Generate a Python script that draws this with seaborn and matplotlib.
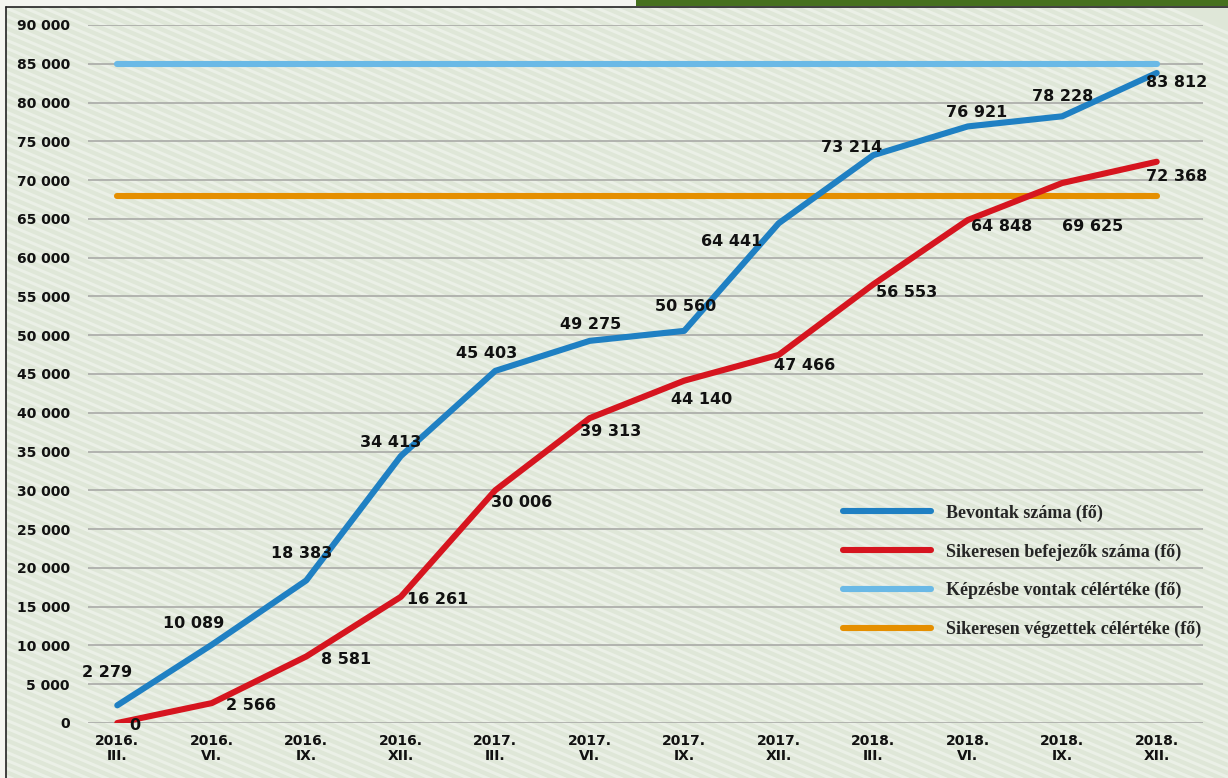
import numpy as np
import pandas as pd
import matplotlib
matplotlib.use("Agg")
import matplotlib.pyplot as plt
from matplotlib.lines import Line2D
from matplotlib.patches import Rectangle
import seaborn as sns

# --- data ---
periods = ["2016.\nIII.", "2016.\nVI.", "2016.\nIX.", "2016.\nXII.",
           "2017.\nIII.", "2017.\nVI.", "2017.\nIX.", "2017.\nXII.",
           "2018.\nIII.", "2018.\nVI.", "2018.\nIX.", "2018.\nXII."]
bevontak = [2279, 10089, 18383, 34413, 45403, 49275, 50560, 64441, 73214, 76921, 78228, 83812]
befejezok = [0, 2566, 8581, 16261, 30006, 39313, 44140, 47466, 56553, 64848, 69625, 72368]
target_bevont = 85000
target_vegzett = 68000
series_names = ["Bevontak száma (fő)", "Sikeresen befejezők száma (fő)",
                "Képzésbe vontak célértéke (fő)", "Sikeresen végzettek célértéke (fő)"]

# label offsets in pixels (layout only)
blue_off = [(-10, 33), (-18, 21), (-5, 27), (-10, 14), (-9, 17), (1, 16),
            (1, 24), (-47, -18), (-22, 8), (9, 14), (0, 20), (20, -10)]
red_off = [(18, -2), (39, -2), (40, -3), (37, -3), (26, -12), (21, -13),
           (17, -19), (26, -11), (33, -8), (34, -6), (30, -43), (20, -15)]

C_BLUE = "#1f80c3"
C_RED = "#d6151f"
C_LBLUE = "#6ab9e6"
C_ORANGE = "#e58f00"

def fmt(v):
    return f"{v:,}".replace(",", " ")

sns.set_theme(style="white")
plt.rcParams["font.family"] = ["DejaVu Sans"]

fig = plt.figure(figsize=(12.28, 7.78), dpi=100)
fig.patch.set_facecolor("#f4f5f0")

# striped light-green background inside the frame
W, H = 1228, 778
fig.add_artist(Rectangle((6 / W, 0), 1, 1 - 7 / H, transform=fig.transFigure,
                         facecolor="#dfe7d8", edgecolor="none", zorder=-10))
slope = 0.42
for k in range(-60, 200):
    y0 = k * 8.0
    xs = np.array([6, W])
    ys = y0 + slope * (xs - 6)  # image coords, y down
    fig.add_artist(Line2D(xs / W, 1 - ys / H, transform=fig.transFigure,
                          color="#ebf0e7", lw=2.2, zorder=-9))
# keep the outside of the frame plain
fig.add_artist(Rectangle((0, 0), 6 / W, 1, transform=fig.transFigure,
                         facecolor="#f4f5f0", edgecolor="none", zorder=-8))
fig.add_artist(Rectangle((0, 1 - 7 / H), 1, 7 / H, transform=fig.transFigure,
                         facecolor="#f4f5f0", edgecolor="none", zorder=-8))
fig.add_artist(Rectangle((636 / W, 1 - 6 / H), 1, 6 / H, transform=fig.transFigure,
                         facecolor="#46701e", edgecolor="none", zorder=-7))
fig.add_artist(Line2D([6 / W, 6 / W], [0, 1 - 7 / H], transform=fig.transFigure,
                      color="#222222", lw=1.2))
fig.add_artist(Line2D([6 / W, 1], [1 - 7 / H, 1 - 7 / H], transform=fig.transFigure,
                      color="#222222", lw=1.2))

ax = fig.add_axes([88 / W, 1 - 723 / H, (1203 - 88) / W, (723 - 25) / H])
ax.patch.set_alpha(0)

x = np.arange(len(periods))
df = pd.DataFrame({"x": x, "bevontak": bevontak, "befejezok": befejezok,
                   "t1": [target_bevont] * len(x), "t2": [target_vegzett] * len(x)})

lw = 4.4
sns.lineplot(data=df, x="x", y="t1", color=C_LBLUE, lw=lw, ax=ax,
             solid_capstyle="round", label=series_names[2], zorder=3)
sns.lineplot(data=df, x="x", y="t2", color=C_ORANGE, lw=lw, ax=ax,
             solid_capstyle="round", label=series_names[3], zorder=3)
sns.lineplot(data=df, x="x", y="bevontak", color=C_BLUE, lw=lw, ax=ax,
             solid_capstyle="round", label=series_names[0], zorder=4)
sns.lineplot(data=df, x="x", y="befejezok", color=C_RED, lw=lw, ax=ax,
             solid_capstyle="round", label=series_names[1], zorder=4)

for i, v in enumerate(bevontak):
    ax.annotate(fmt(v), (x[i], v), xytext=blue_off[i], textcoords="offset pixels",
                ha="center", va="center", fontsize=11.5, fontweight="bold",
                color="#111111", zorder=6)
for i, v in enumerate(befejezok):
    ax.annotate(fmt(v), (x[i], v), xytext=red_off[i], textcoords="offset pixels",
                ha="center", va="center", fontsize=11.5, fontweight="bold",
                color="#111111", zorder=6)

ax.set_xlim(-0.31, 11.49)
ax.set_ylim(0, 90000)
yt = np.arange(0, 90001, 5000)
ax.set_yticks(yt)
ax.set_yticklabels([fmt(v) for v in yt], fontsize=10, fontweight="bold", color="#111111")
ax.set_xticks(x)
ax.set_xticklabels(periods, fontsize=10, fontweight="bold", color="#111111",
                   linespacing=1.05)
ax.tick_params(axis="both", length=0)
ax.tick_params(axis="y", pad=13)
ax.tick_params(axis="x", pad=8)
ax.set_xlabel("")
ax.set_ylabel("")
ax.grid(axis="y", color="#a9aaa7", lw=1.2)
ax.set_axisbelow(True)
for s in ax.spines.values():
    s.set_visible(False)

handles, labels = ax.get_legend_handles_labels()
order = [labels.index(n) for n in series_names]
leg = ax.legend([handles[i] for i in order], [labels[i] for i in order],
                loc="upper left", bbox_to_anchor=(0.677, 0.313), frameon=False,
                borderpad=0, borderaxespad=0, handlelength=4.9, handletextpad=0.8,
                labelspacing=1.19,
                prop={"family": "Liberation Serif", "weight": "bold", "size": 13})

fig.savefig("out.png", dpi=100, facecolor=fig.get_facecolor())
